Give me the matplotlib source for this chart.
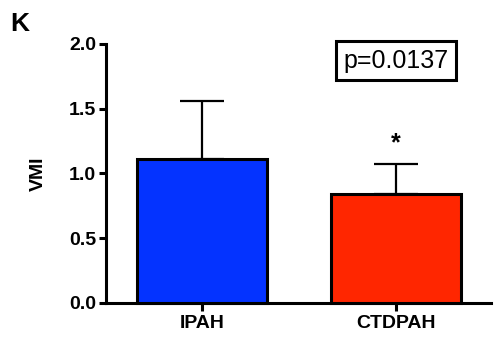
import matplotlib
matplotlib.use("Agg")
import matplotlib.pyplot as plt

categories = ["IPAH", "CTDPAH"]
means = [1.11, 0.84]
errors = [0.45, 0.23]
colors = ["#0433FF", "#FF2600"]
yticks = [0.0, 0.5, 1.0, 1.5, 2.0]
ytick_labels = ["0.0", "0.5", "1.0", "1.5", "2.0"]
p_text = "p=0.0137"
panel = "K"

plt.rcParams['font.family'] = ['Liberation Sans', 'DejaVu Sans']

fig = plt.figure(figsize=(4.95, 3.4), dpi=100)
ax = fig.add_axes([0.214, 0.109, 0.778, 0.762])

x = list(range(len(categories)))
ax.bar(x, means, width=0.67, color=colors, edgecolor="black", linewidth=2.2,
       zorder=3, clip_on=False)
ax.errorbar(x, means, yerr=[[0, 0], errors], fmt="none", ecolor="black",
            elinewidth=1.6, capsize=16, capthick=1.6, zorder=2)

ax.set_xlim(-0.495, 1.49)
ax.set_ylim(0, 2.0)
ax.set_yticks(yticks)
ax.set_yticklabels(ytick_labels)
ax.set_xticks(x)
ax.set_xticklabels(categories)

for s in ["top", "right"]:
    ax.spines[s].set_visible(False)
for s in ["left", "bottom"]:
    ax.spines[s].set_linewidth(2.2)

ax.tick_params(axis="y", length=5, width=2.2, labelsize=14, pad=2)
ax.tick_params(axis="x", length=6, width=2.2, labelsize=14, pad=3)
for lab in ax.get_xticklabels() + ax.get_yticklabels():
    lab.set_fontweight("bold")

ax.set_ylabel("VMI", fontsize=14, fontweight="bold", labelpad=16)

ax.text(1.0, 1.87, p_text, ha="center", va="center", fontsize=18,
        bbox=dict(boxstyle="square,pad=0.3", facecolor="white",
                  edgecolor="black", linewidth=2.2))
ax.text(1.0, means[1] + errors[1] + 0.07, "*", ha="center", va="bottom",
        fontsize=18, fontweight="bold")

fig.text(0.02, 0.965, panel, fontsize=19, fontweight="bold", ha="left", va="top")

fig.savefig("out.png", dpi=100)
